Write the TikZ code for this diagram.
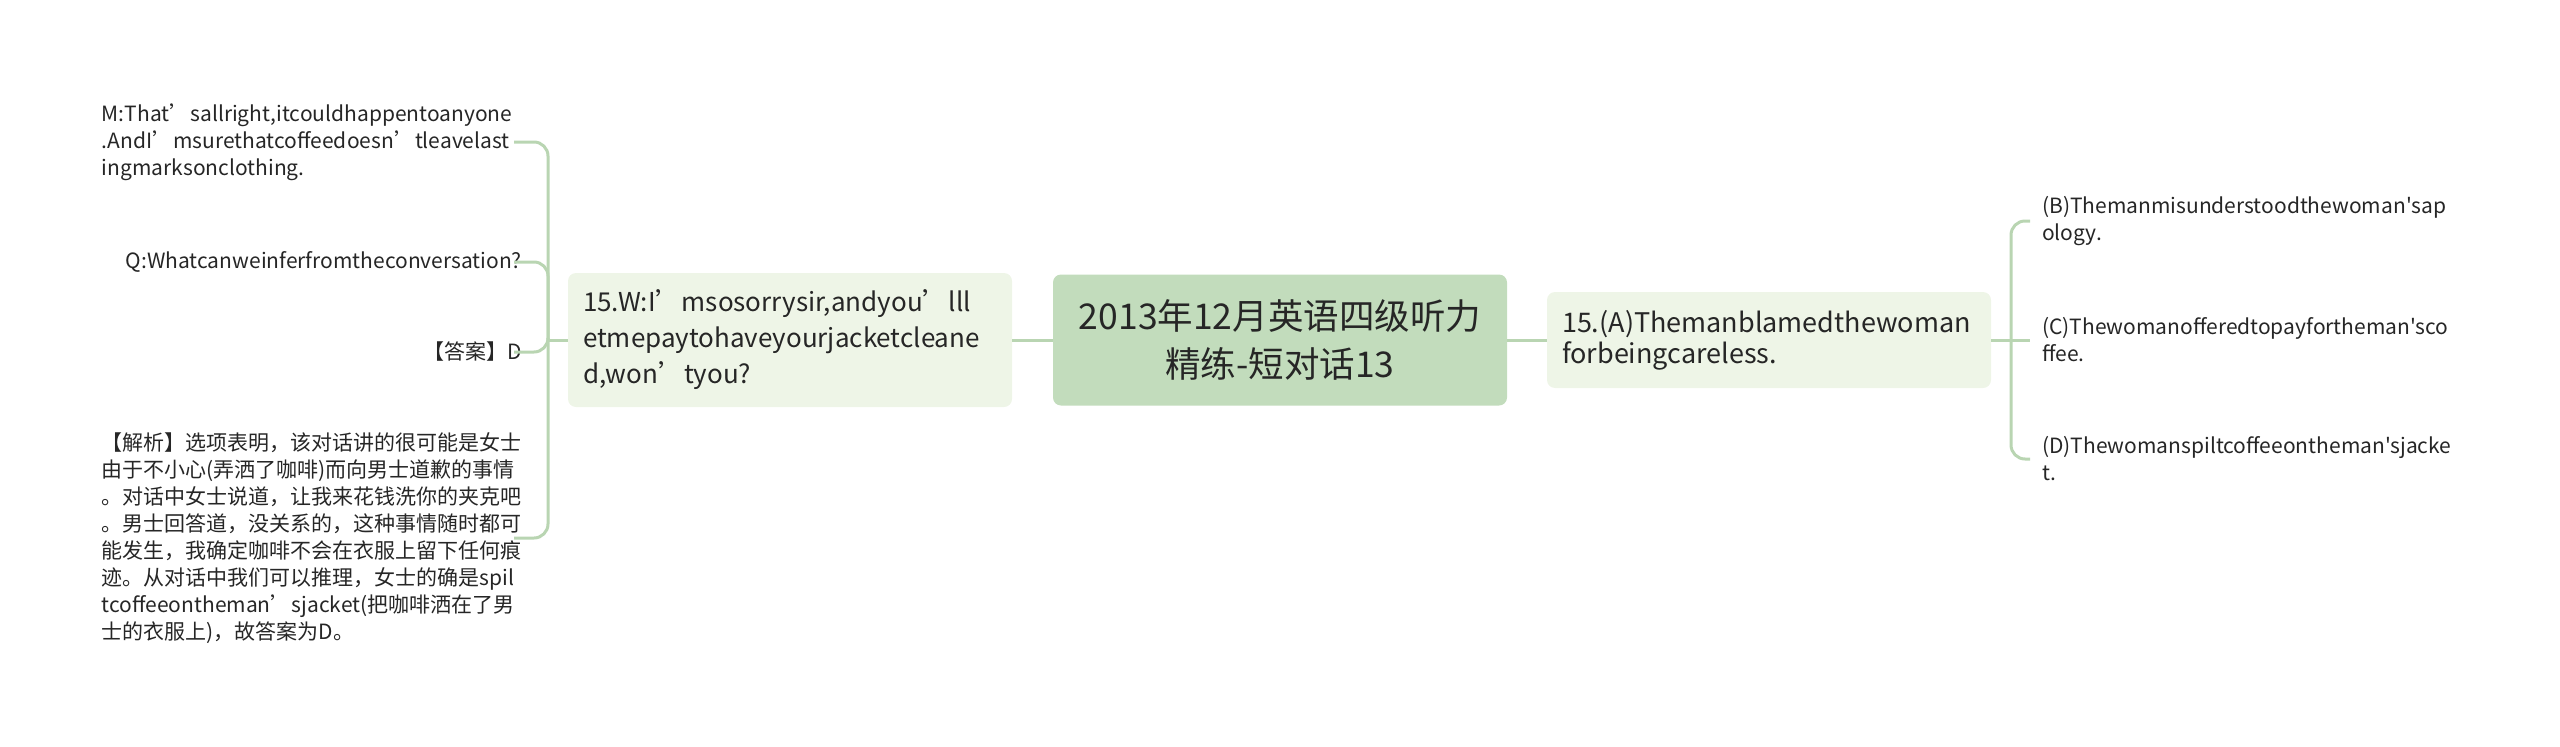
\documentclass[tikz,border=0pt]{standalone}
\usepackage{fontspec}
\setmainfont{Noto Sans CJK SC}[Ligatures=TeXOff]
\definecolor{rootfill}{HTML}{C2DCBC}
\definecolor{subfill}{HTML}{EEF5E7}
\definecolor{linecol}{HTML}{B9D5B2}
\definecolor{txt}{HTML}{262626}
\tikzset{
  rootbox/.style={fill=rootfill, rounded corners=8pt, minimum width=454pt, minimum height=131pt, inner sep=0pt, align=center, text=txt, font=\fontsize{35.5pt}{48pt}\selectfont},
  subbox/.style={fill=subfill, rounded corners=8pt, inner xsep=15pt, inner ysep=0pt, align=left, text=txt},
  leaf/.style={inner sep=0pt, text=txt, font=\fontsize{21pt}{27pt}\selectfont},
  conn/.style={draw=linecol, line width=3pt, rounded corners=14pt},
}
\begin{document}
\begin{tikzpicture}[x=1pt,y=-1pt]
\useasboundingbox (0,0) rectangle (2560,747);
% root
\node[rootbox] (C) at (1280,340) {2013年12月英语四级听力\\精练-短对话13};
% left sub
\node[subbox, minimum width=444pt, minimum height=134pt, text width=414pt, font=\fontsize{26pt}{36pt}\selectfont] (L) at (790,340)
  {15.W:I’msosorrysir,andyou’lll\\etmepaytohaveyourjacketcleane\\d,won’tyou?};
% right sub
\node[subbox, minimum width=444pt, minimum height=96pt, text width=414pt, font=\fontsize{27pt}{31pt}\selectfont] (R) at (1769,340)
  {15.(A)Themanblamedthewoman\\forbeingcareless.};
% left leaves
\node[leaf, anchor=east, align=left, text width=420pt] (M) at (522,142)
  {M:That’sallright,itcouldhappentoanyone\\.AndI’msurethatcoffeedoesn’tleavelast\\ingmarksonclothing.};
\node[leaf, anchor=east, align=right] (Q) at (522,262) {Q:Whatcanweinferfromtheconversation?};
\node[leaf, anchor=east, align=right] (A) at (522,352) {【答案】D};
\node[leaf, anchor=east, align=left, text width=420pt] (J) at (522,538)
  {【解析】选项表明，该对话讲的很可能是女士\\由于不小心(弄洒了咖啡)而向男士道歉的事情\\。对话中女士说道，让我来花钱洗你的夹克吧\\。男士回答道，没关系的，这种事情随时都可\\能发生，我确定咖啡不会在衣服上留下任何痕\\迹。从对话中我们可以推理，女士的确是spil\\tcoffeeontheman’sjacket(把咖啡洒在了男\\士的衣服上)，故答案为D。};
% right leaves
\node[leaf, anchor=west, align=left] (B) at (2042,221) {(B)Themanmisunderstoodthewoman'sap\\ology.};
\node[leaf, anchor=west, align=left] (Cc) at (2042,340) {(C)Thewomanofferedtopayfortheman'sco\\ffee.};
\node[leaf, anchor=west, align=left] (D) at (2042,459) {(D)Thewomanspiltcoffeeontheman'sjacke\\t.};
% connectors
\coordinate (lb) at (548,340);
\coordinate (rb) at (2011,340);
\draw[conn] (C.west) -- (L.east);
\draw[conn] (C.east) -- (R.west);
\draw[conn] (L.west) -- (lb);
\draw[conn] (R.east) -- (rb);
\draw[conn] (lb) |- ([xshift=-8pt]M.east);
\draw[conn] (lb) |- ([xshift=-8pt]Q.east);
\draw[conn] (lb) |- ([xshift=-8pt]A.east);
\draw[conn] (lb) |- ([xshift=-8pt]M.east |- J.east);
\draw[conn] (rb) |- ([xshift=-12pt]B.west);
\draw[conn] (rb) -- ([xshift=-12pt]Cc.west);
\draw[conn] (rb) |- ([xshift=-12pt]D.west);
\end{tikzpicture}
\end{document}
